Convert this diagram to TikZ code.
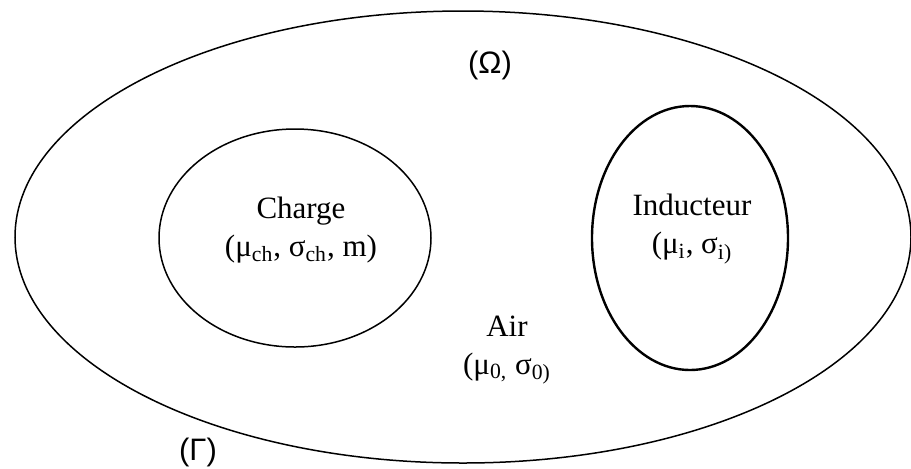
\documentclass[tikz,border=0pt]{standalone}
\usepackage{fontspec}
\setmainfont{Liberation Serif}
\newfontfamily\labelsans{Liberation Sans}
\usepackage{tikz}

\begin{document}
\begin{tikzpicture}[
    x=0.5pt, y=-0.5pt,
    region/.style={
        draw=black,
        line width=0.75pt,
    },
    regionlabel/.style={
        align=center,
        inner sep=0pt,
        font=\fontsize{15.5}{19}\selectfont,
    },
    domainlabel/.style={
        inner sep=0pt,
        font=\labelsans\fontsize{15.5}{19}\selectfont,
    },
]
\useasboundingbox (0,0) rectangle (911,468);

\draw[region] (463,237) ellipse (448 and 226);
\draw[region] (295,238) ellipse (136 and 109);
\draw[region,line width=1.2pt] (690,238) ellipse (98 and 132);

\node[domainlabel] (omega) at (490,65) {(Ω)};
\node[domainlabel] (gamma) at (198,452) {(Γ)};

\node[regionlabel] (charge) at (301,230) {%
    Charge\\
    (μ\textsubscript{ch}, σ\textsubscript{ch}, m)};

\node[regionlabel] (inducteur) at (692,229) {%
    Inducteur\\
    (μ\textsubscript{i}, σ\textsubscript{i)}};

\node[regionlabel] (air) at (507,350) {%
    Air\\
    (μ\textsubscript{0,} σ\textsubscript{0)}};
\end{tikzpicture}
\end{document}
